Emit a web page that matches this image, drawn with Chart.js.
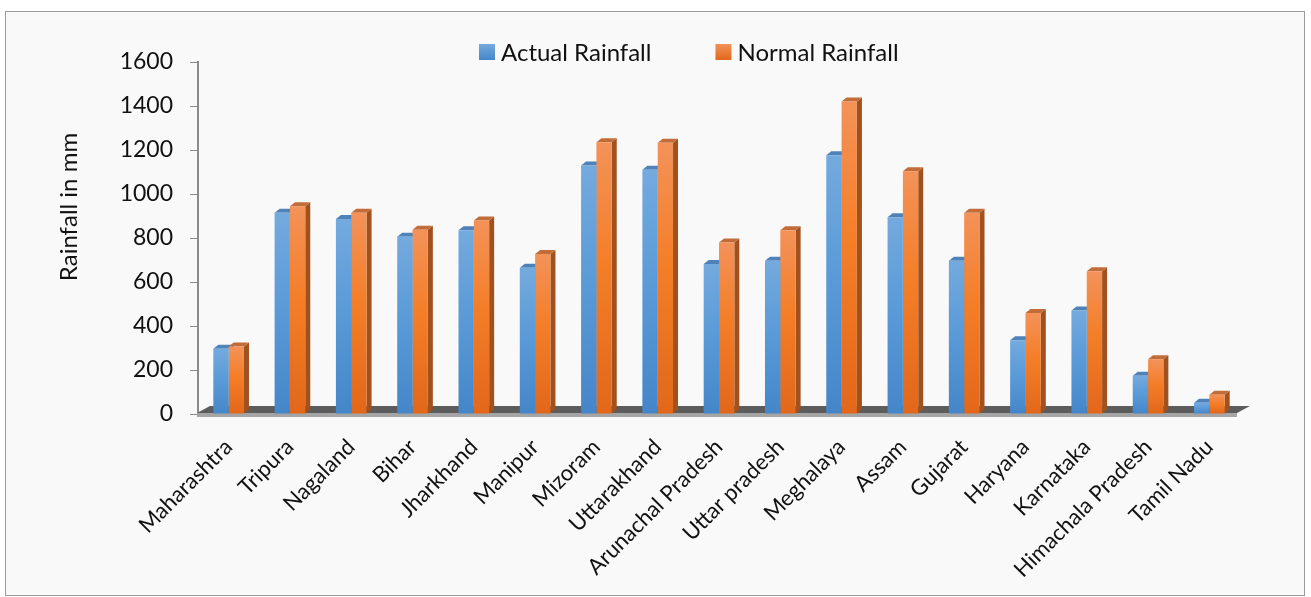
<!DOCTYPE html>
<html>
<head>
<meta charset="utf-8">
<script src="https://cdn.jsdelivr.net/npm/chart.js@4.4.0/dist/chart.umd.min.js"></script>
<style>
  html, body { margin: 0; padding: 0; background: #fff; }
  #wrap { position: relative; width: 1311px; height: 597px; }
</style>
</head>
<body>
<div id="wrap"><canvas id="rainChart"></canvas></div>
<script>
// === Data ===
const states = ['Maharashtra', 'Tripura', 'Nagaland', 'Bihar', 'Jharkhand', 'Manipur', 'Mizoram',
    'Uttarakhand', 'Arunachal Pradesh', 'Uttar pradesh', 'Meghalaya', 'Assam', 'Gujarat',
    'Haryana', 'Karnataka', 'Himachala Pradesh', 'Tamil Nadu'];
const actualRain = [297, 915, 886, 806, 835, 665, 1129, 1110, 682, 697, 1176, 894, 697, 335, 470, 174, 51];
const normalRain = [307, 944, 915, 838, 879, 727, 1235, 1233, 780, 835, 1421, 1103, 915, 459, 649, 249, 88];
const yTicks = [0, 200, 400, 600, 800, 1000, 1200, 1400, 1600];
const yTitle = 'Rainfall in mm';

const FONT = 'Lato, "Open Sans", sans-serif';
const DEPTH_X = 5, DEPTH_Y = 4;

// colours: [top, middle, bottom] for front face, plus side / top faces
const blueFront = ['#74aade', '#5b9bd8', '#4486c9'];
const orangeFront = ['#f39259', '#f47e28', '#e2671a'];
const sideColors = ['#3f6fa3', '#a0511d'];
const capColors = ['#4f82b8', '#c26c3a'];

function barFill(stops) {
    return (c) => {
        const chart = c.chart, ys = chart.scales.y;
        if (!ys || c.raw == null) return stops[1];
        const top = ys.getPixelForValue(c.raw), base = ys.getPixelForValue(0);
        if (!isFinite(top) || !isFinite(base) || top === base) return stops[1];
        const g = chart.ctx.createLinearGradient(0, top, 0, base);
        g.addColorStop(0, stops[0]);
        g.addColorStop(0.45, stops[1]);
        g.addColorStop(1, stops[2]);
        return g;
    };
}

// background, border, axis title and legend
const framePlugin = {
    id: 'frame',
    beforeDraw(chart) {
        const ctx = chart.ctx;
        ctx.save();
        ctx.fillStyle = '#ffffff';
        ctx.fillRect(0, 0, chart.width, chart.height);
        ctx.fillStyle = '#f9f9f9';
        ctx.fillRect(5.5, 11.5, 1299, 584);
        ctx.strokeStyle = '#9b9b9b';
        ctx.lineWidth = 1;
        ctx.strokeRect(5.5, 11.5, 1299, 584);
        ctx.restore();
    },
    afterDraw(chart) {
        const ctx = chart.ctx;
        ctx.save();
        ctx.font = '24px ' + FONT;
        ctx.fillStyle = '#111';
        ctx.textAlign = 'center';
        ctx.textBaseline = 'middle';
        ctx.translate(69, 207);
        ctx.rotate(-Math.PI / 2);
        ctx.fillText(yTitle, 0, 0);
        ctx.restore();

        ctx.save();
        ctx.font = '24px ' + FONT;
        ctx.textBaseline = 'middle';
        let x = 479;
        const y = 52;
        chart.data.datasets.forEach((ds, i) => {
            const stops = i === 0 ? blueFront : orangeFront;
            const g = ctx.createLinearGradient(0, y - 8, 0, y + 8);
            g.addColorStop(0, stops[0]);
            g.addColorStop(1, stops[2]);
            ctx.fillStyle = g;
            ctx.fillRect(x, y - 8, 16, 16);
            ctx.fillStyle = '#111';
            ctx.fillText(ds.label, x + 22, y + 1);
            x += 22 + ctx.measureText(ds.label).width + 64;
        });
        ctx.restore();
    }
};

// floor and 3D side/top faces, drawn behind the front faces
const depthPlugin = {
    id: 'depth3d',
    beforeDatasetsDraw(chart) {
        const ctx = chart.ctx, a = chart.chartArea;
        const base = chart.scales.y.getPixelForValue(0);
        ctx.save();
        ctx.fillStyle = '#5c5c5c';
        ctx.beginPath();
        ctx.moveTo(a.left - 1, base - 1);
        ctx.lineTo(a.left + 12, base - 8);
        ctx.lineTo(a.right + 10, base - 8);
        ctx.lineTo(a.right - 3, base - 1);
        ctx.closePath();
        ctx.fill();
        ctx.fillStyle = '#a5a5a5';
        ctx.fillRect(a.left - 1, base - 1, a.right - a.left - 2, 4);

        chart.data.datasets.forEach((ds, i) => {
            const meta = chart.getDatasetMeta(i);
            meta.data.forEach(bar => {
                const p = bar.getProps(['x', 'y', 'base', 'width'], true);
                const l = p.x - p.width / 2, r = p.x + p.width / 2;
                ctx.fillStyle = sideColors[i];
                ctx.beginPath();
                ctx.moveTo(r, p.y);
                ctx.lineTo(r + DEPTH_X, p.y - DEPTH_Y);
                ctx.lineTo(r + DEPTH_X, p.base - DEPTH_Y);
                ctx.lineTo(r, p.base);
                ctx.closePath();
                ctx.fill();
                ctx.fillStyle = capColors[i];
                ctx.beginPath();
                ctx.moveTo(l, p.y);
                ctx.lineTo(l + DEPTH_X, p.y - DEPTH_Y);
                ctx.lineTo(r + DEPTH_X, p.y - DEPTH_Y);
                ctx.lineTo(r, p.y);
                ctx.closePath();
                ctx.fill();
            });
        });
        ctx.restore();
    }
};

new Chart(document.getElementById('rainChart'), {
    type: 'bar',
    data: {
        labels: states,
        datasets: [{
            label: 'Actual Rainfall',
            data: actualRain,
            backgroundColor: barFill(blueFront),
            categoryPercentage: 0.5,
            barPercentage: 1.0
        }, {
            label: 'Normal Rainfall',
            data: normalRain,
            backgroundColor: barFill(orangeFront),
            categoryPercentage: 0.5,
            barPercentage: 1.0
        }]
    },
    options: {
        responsive: true,
        maintainAspectRatio: false,
        animation: false,
        devicePixelRatio: 1,
        layout: { padding: { left: 50, right: 71, top: 62, bottom: 0 } },
        plugins: {
            legend: { display: false },
            tooltip: { enabled: false }
        },
        scales: {
            x: {
                grid: { display: false },
                border: { display: false },
                ticks: {
                    autoSkip: false,
                    minRotation: 45,
                    maxRotation: 45,
                    padding: 12,
                    color: '#111',
                    font: { family: FONT, size: 22 }
                },
                afterFit: (s) => { s.height = 183; }
            },
            y: {
                min: 0,
                max: 1600,
                afterBuildTicks: (s) => { s.ticks = yTicks.map(v => ({ value: v })); },
                grid: { drawOnChartArea: false, tickLength: 8, color: '#8a8a8a' },
                border: { display: true, color: '#8a8a8a', width: 2 },
                ticks: {
                    padding: 17,
                    color: '#111',
                    font: { family: FONT, size: 23 },
                    callback: (v) => String(v)
                },
                afterFit: (s) => { s.width = 148; }
            }
        }
    },
    plugins: [framePlugin, depthPlugin]
});
</script>
</body>
</html>
